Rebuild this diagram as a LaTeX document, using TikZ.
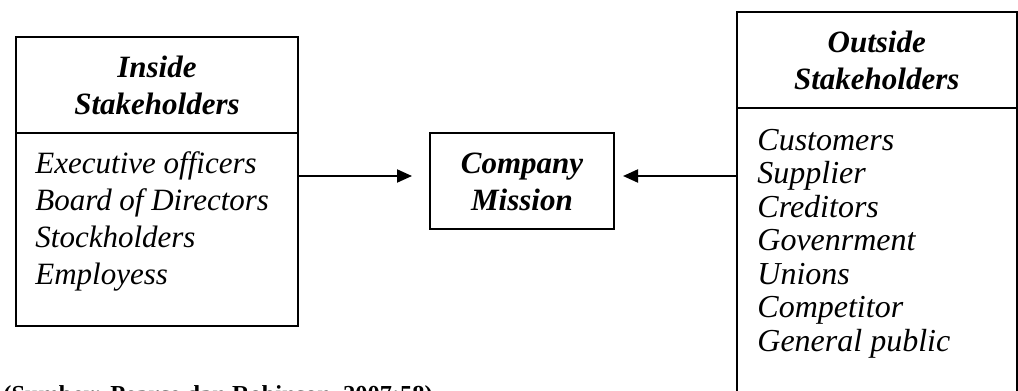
\documentclass[tikz,border=0pt]{standalone}
\usepackage{fontspec}
\setmainfont{Liberation Serif}
\usetikzlibrary{arrows.meta}
\begin{document}
\begin{tikzpicture}[x=0.5pt,y=-0.5pt,
  box/.style={draw, line width=1pt, inner sep=0pt},
  rule/.style={line width=1pt},
  txt/.style={inner sep=0pt, font=\fontsize{15.5}{18.5}\selectfont\itshape},
  txtb/.style={inner sep=0pt, font=\fontsize{16}{18.5}\selectfont\itshape},
  hdr/.style={inner sep=0pt, font=\fontsize{15.5}{18.5}\selectfont\bfseries\itshape},
  arr/.style={-{Triangle[length=7.5pt,width=6.5pt]}, line width=1pt}]
\clip (0,0) rectangle (1018,391);
\fill[white] (0,0) rectangle (1018,391);
% boxes
\node[box, minimum width=141pt, minimum height=144.5pt] (inbox) at (157,181.5) {};
\node[box, minimum width=92pt, minimum height=48pt] (mission) at (522,181) {};
\node[box, minimum width=139.75pt, minimum height=204pt] (outbox) at (876.75,216) {};
\draw[rule] (inbox.west |- 0,133) -- (inbox.east |- 0,133);
\draw[rule] (outbox.west |- 0,108) -- (outbox.east |- 0,108);
% inside
\node[hdr, anchor=base] (inA) at (157,77) {Inside};
\node[hdr, anchor=base] (inB) at (157,114) {Stakeholders};
\foreach \t [count=\i] in {Executive officers, Board of Directors, Stockholders, Employess}
  \node[txt, anchor=base west] (in\i) at (35,{173+37*(\i-1)}) {\t};
% mission
\node[hdr, anchor=base] (mA) at (522,173) {Company};
\node[hdr, anchor=base] (mB) at (522,210) {Mission};
% outside
\node[hdr, anchor=base] (outA) at (876.75,52) {Outside};
\node[hdr, anchor=base] (outB) at (876.75,89) {Stakeholders};
\foreach \t [count=\i] in {Customers, Supplier, Creditors, Govenrment, Unions, Competitor, General public}
  \node[txtb, anchor=base west] (out\i) at (757,{150+33.5*(\i-1)}) {\t};
% arrows
\draw[arr, shorten >=8.5pt] (inbox.east |- 0,176) -- (mission.west |- 0,176);
\draw[arr, shorten >=4pt] (outbox.west |- 0,176) -- (mission.east |- 0,176);
% source (cut off at the bottom edge)
\node[anchor=base west, inner sep=0pt, font=\fontsize{12.2}{14}\selectfont\bfseries] (src) at (3,402) {(Sumber: Pearce dan Robinson, 2007:58)};
\end{tikzpicture}
\end{document}
